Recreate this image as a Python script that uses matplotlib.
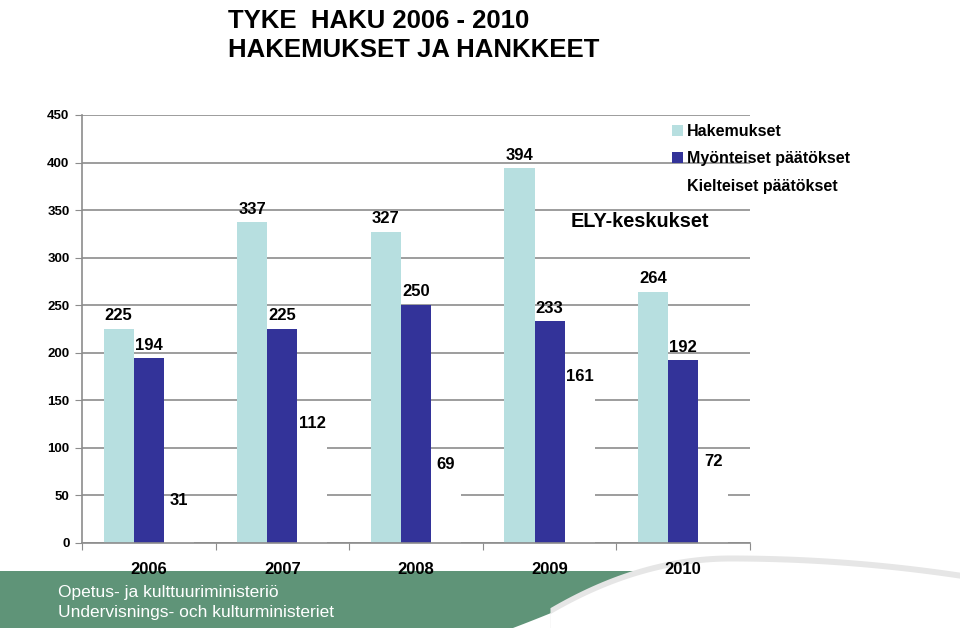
import numpy as np
import matplotlib.pyplot as plt

YEARS = ["2006", "2007", "2008", "2009", "2010"]
HAKEMUKSET = [225, 337, 327, 394, 264]
MYONTEISET = [194, 225, 250, 233, 192]
KIELTEISET = [31, 112, 69, 161, 72]

LIGHT = "#b7dfe0"
DARK = "#333399"
GRID = "#8c8c8c"

plt.rcParams["font.family"] = ["Liberation Sans", "DejaVu Sans"]

fig = plt.figure(figsize=(9.6, 6.28), dpi=100)

# footer band drawn in a background axes (pixel coordinates)
ax_f = fig.add_axes([0, 0, 1, 1], zorder=-1)
ax_f.set_xlim(0, 960)
ax_f.set_ylim(628, 0)
ax_f.axis("off")
t = np.linspace(0, 1, 40)
cx = 643 - 110 * t - 20 * t ** 2
cy = 571 + 57 * t
ax_f.fill(np.r_[0, cx, 0], np.r_[571, cy, 628], color="#5f9478", lw=0)
arc_x = np.linspace(550, 960, 80)
arc_y = 563 + 65 * ((arc_x - 730) / 200) ** 2 * np.where(arc_x < 730, 1.0, 0.2)
arc_y = np.minimum(arc_y, 628)
ax_f.fill_between(arc_x, arc_y - 8, 628, color="#e6e6e6", lw=0)
ax_f.fill_between(arc_x, arc_y - 2, 628, color="white", lw=0)
ax_f.text(58, 592, "Opetus- ja kulttuuriministeriö", color="white", fontsize=12.5, va="center")
ax_f.text(58, 613, "Undervisnings- och kulturministeriet", color="white", fontsize=12.5, va="center")

ax = fig.add_axes([0.0854, 0.1354, 0.6958, 0.6815])
ax.patch.set_alpha(0)

x = np.arange(len(YEARS))
w = 0.225
series = [(HAKEMUKSET, LIGHT, "Hakemukset", -w),
          (MYONTEISET, DARK, "Myönteiset päätökset", 0),
          (KIELTEISET, "white", "Kielteiset päätökset", w)]
for vals, col, lab, off in series:
    bars = ax.bar(x + off, vals, w, color=col, label=lab, zorder=3)
    for b, v in zip(bars, vals):
        ax.text(b.get_x() + b.get_width() / 2, v + 6, str(v), ha="center", va="bottom",
                fontsize=12, fontweight="bold", zorder=4)

ax.set_xlim(-0.5, len(YEARS) - 0.5)
ax.set_ylim(0, 450)
ax.set_yticks(range(0, 451, 50))
ax.set_xticks(np.arange(len(YEARS) + 1) - 0.5)
ax.set_xticklabels([])
ax.tick_params(axis="x", direction="out", length=5, color=GRID)
ax.tick_params(axis="y", direction="out", length=5, color=GRID, labelsize=9.5, pad=4)
for tl in ax.get_yticklabels():
    tl.set_fontweight("bold")
for i, yr in enumerate(YEARS):
    ax.text(i, -20, yr, ha="center", va="top", fontsize=12, fontweight="bold",
            zorder=6, clip_on=False)

ax.yaxis.grid(True, color=GRID, linewidth=1.2, zorder=0)
for s in ["top", "right"]:
    ax.spines[s].set_visible(False)
for s in ["left", "bottom"]:
    ax.spines[s].set_color(GRID)
    ax.spines[s].set_linewidth(1.2)
    ax.spines[s].set_zorder(5)

ax.legend(loc="upper left", bbox_to_anchor=(0.862, 1.013), frameon=False,
          handlelength=0.65, handleheight=0.65, handletextpad=0.3,
          labelspacing=0.78, prop={"weight": "bold", "size": 11.5})

fig.text(0.594, 0.648, "ELY-keskukset", fontsize=14.3, fontweight="bold", va="center")

fig.text(0.238, 0.985, "TYKE  HAKU 2006 - 2010", fontsize=18.5, fontweight="bold", va="top")
fig.text(0.238, 0.94, "HAKEMUKSET JA HANKKEET", fontsize=18.5, fontweight="bold", va="top")

fig.savefig("out.png", dpi=100)
